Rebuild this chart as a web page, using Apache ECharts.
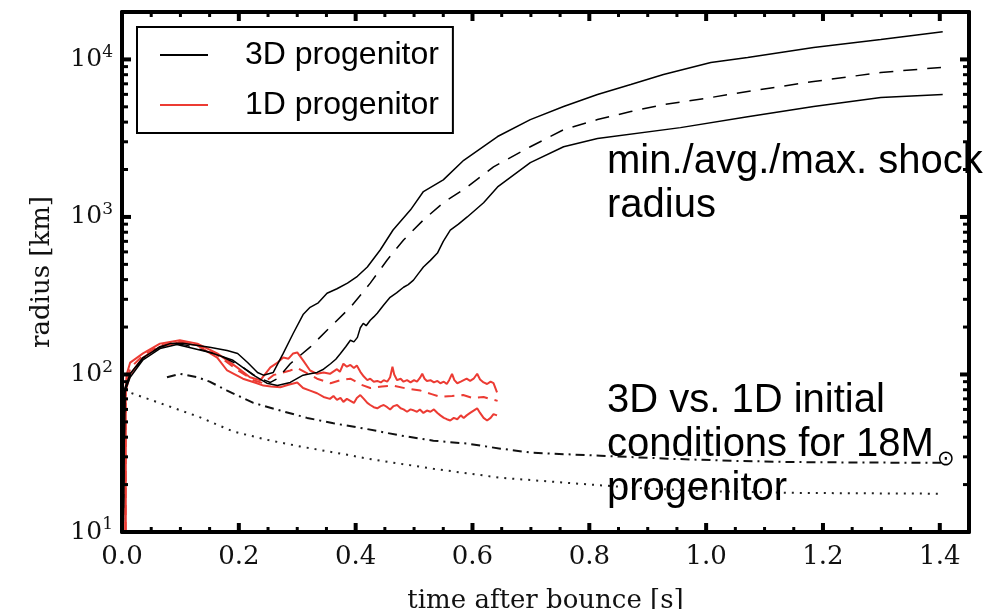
<!DOCTYPE html>
<html>
<head>
<meta charset="utf-8">
<title>shock radius</title>
<script src="https://cdn.jsdelivr.net/npm/echarts@6/dist/echarts.min.js"></script>
<style>
  html, body { margin: 0; padding: 0; background: #fff; }
  #chart { width: 991px; height: 609px; }
</style>
</head>
<body>
<div id="chart"></div>
<script>
// tick labels
const xTicks = [0.0, 0.2, 0.4, 0.6, 0.8, 1.0, 1.2, 1.4];
const yTicks = [10, 100, 1000, 10000];
const legendNames = ['3D progenitor', '1D progenitor'];

// [time after bounce (s), radius (km)]
const max3D = [[0.002,10],[0.005,82],[0.014,101],[0.036,128],[0.065,149],[0.082,157],[0.104,158],[0.15,149],[0.18,142],[0.198,136],[0.215,119],[0.232,103],[0.242,99],[0.259,103],[0.276,136],[0.293,182],[0.31,240],[0.322,267],[0.336,285],[0.351,328],[0.368,350],[0.386,380],[0.403,420],[0.42,481],[0.442,617],[0.464,826],[0.494,1110],[0.516,1450],[0.55,1720],[0.585,2290],[0.643,3240],[0.699,4150],[0.756,5020],[0.814,5990],[0.871,6930],[0.927,8020],[1.008,9570],[1.071,10300],[1.184,11900],[1.299,13400],[1.405,15000]];
const avg3D = [[0.002,10],[0.005,80],[0.014,99],[0.036,127],[0.065,150],[0.09,158],[0.111,153],[0.168,132],[0.207,111],[0.231,96],[0.254,89],[0.266,94],[0.288,117],[0.322,149],[0.351,191],[0.391,267],[0.425,380],[0.454,533],[0.482,714],[0.516,957],[0.55,1230],[0.591,1550],[0.636,2080],[0.699,2790],[0.756,3580],[0.814,4150],[0.871,4670],[0.927,5170],[1.008,5730],[1.071,6260],[1.184,7240],[1.299,8260],[1.402,8890]];
const min3D = [[0.002,10],[0.005,78],[0.014,96],[0.036,124],[0.065,146],[0.094,155],[0.151,138],[0.19,123],[0.225,99],[0.248,88],[0.266,85],[0.288,89],[0.31,99],[0.322,101],[0.334,103],[0.345,108],[0.357,117],[0.366,125],[0.374,136],[0.383,150],[0.391,165],[0.397,161],[0.403,172],[0.408,198],[0.413,211],[0.418,204],[0.425,221],[0.431,232],[0.437,245],[0.448,276],[0.459,309],[0.47,330],[0.482,358],[0.49,372],[0.499,397],[0.508,440],[0.516,481],[0.528,530],[0.54,590],[0.55,700],[0.562,826],[0.576,900],[0.591,1000],[0.619,1230],[0.643,1550],[0.699,2210],[0.756,2790],[0.814,3150],[0.956,3690],[1.071,4330],[1.184,5020],[1.299,5730],[1.405,5990]];
const max1D = [[0.006,10],[0.006,80],[0.008,100],[0.014,119],[0.036,136],[0.065,157],[0.099,165],[0.129,157],[0.163,136],[0.197,111],[0.219,96],[0.237,92],[0.254,111],[0.265,118],[0.276,128],[0.285,126],[0.293,136],[0.3,138],[0.31,123],[0.322,106],[0.334,101],[0.345,103],[0.356,101],[0.368,108],[0.373,104],[0.379,117],[0.385,112],[0.391,115],[0.397,110],[0.402,114],[0.408,104],[0.414,97],[0.42,92],[0.425,94],[0.431,90],[0.437,91],[0.443,89],[0.448,92],[0.454,90],[0.459,96],[0.463,112],[0.466,100],[0.471,92],[0.477,94],[0.482,90],[0.488,92],[0.494,89],[0.5,92],[0.505,90],[0.51,95],[0.514,101],[0.518,94],[0.522,91],[0.528,92],[0.534,89],[0.54,91],[0.545,88],[0.551,90],[0.556,87],[0.56,92],[0.565,101],[0.569,92],[0.574,88],[0.58,90],[0.585,92],[0.59,94],[0.596,91],[0.602,94],[0.608,101],[0.613,93],[0.619,89],[0.625,87],[0.631,90],[0.636,88],[0.642,77]];
const avg1D = [[0.006,10],[0.006,80],[0.014,110],[0.036,132],[0.065,153],[0.099,162],[0.129,155],[0.163,133],[0.197,107],[0.225,92],[0.242,88],[0.259,99],[0.288,106],[0.3,110],[0.334,94],[0.357,88],[0.374,92],[0.391,94],[0.41,86],[0.425,82],[0.445,84],[0.464,85],[0.49,81],[0.511,79],[0.53,75],[0.545,72],[0.565,73],[0.584,74],[0.6,71],[0.619,72],[0.63,70],[0.643,68]];
const min1D = [[0.006,10],[0.006,78],[0.014,100],[0.036,128],[0.065,150],[0.099,160],[0.129,153],[0.163,128],[0.18,106],[0.207,94],[0.231,88],[0.242,85],[0.255,84],[0.271,83],[0.285,86],[0.3,89],[0.31,82],[0.322,79],[0.334,76],[0.345,72],[0.356,70],[0.362,73],[0.368,69],[0.374,71],[0.379,67],[0.385,70],[0.391,68],[0.397,66],[0.402,71],[0.408,74],[0.414,70],[0.42,66],[0.425,64],[0.431,62],[0.437,61],[0.443,63],[0.448,64],[0.454,62],[0.459,60],[0.465,63],[0.471,64],[0.477,61],[0.482,60],[0.488,58],[0.494,60],[0.5,59],[0.505,58],[0.51,60],[0.516,57],[0.522,59],[0.528,58],[0.534,60],[0.54,57],[0.545,55],[0.551,53],[0.556,52],[0.562,51],[0.568,53],[0.574,52],[0.58,55],[0.585,53],[0.59,55],[0.596,57],[0.602,59],[0.608,61],[0.613,57],[0.619,53],[0.625,51],[0.631,53],[0.636,56],[0.642,55]];
const initial3D = [[0.077,96],[0.099,101],[0.129,96],[0.15,90],[0.18,79],[0.225,66],[0.271,59],[0.317,53],[0.362,49],[0.42,45],[0.476,41],[0.533,38],[0.591,36.4],[0.648,33.8],[0.704,31.8],[0.819,30.5],[0.934,29.2],[1.047,28.3],[1.15,27.8],[1.27,27.6],[1.402,27.5]];
const initial1D = [[0.003,78],[0.008,78],[0.077,63.5],[0.134,53.4],[0.19,43.5],[0.248,38.5],[0.305,34.9],[0.386,30.9],[0.42,29.2],[0.533,25.2],[0.648,22.1],[0.763,20.5],[0.876,19.1],[0.991,18.2],[1.157,17.7],[1.402,17.5]];

const black = '#000';
const red = '#ec3b33';

// tick marks on all four sides: [t, r, 0 = x tick / 1 = y tick, 1 = major]
const tickMarks = [];
for (let i = 0; i <= 28; i++) tickMarks.push([+(i * 0.05).toFixed(2), 100, 0, i % 4 ? 0 : 1]);
yTicks.forEach(d => {
  tickMarks.push([0.5, d, 1, 1]);
  for (let k = 2; k <= 9; k++) if (d * k < 20000) tickMarks.push([0.5, d * k, 1, 0]);
});

const serif = 'DejaVu Serif';
const frame = {show: true, onZero: false, lineStyle: {color: '#000', width: 4}};

const xMain = {
  type: 'value', position: 'bottom', min: 0, max: 1.45,
  axisLine: frame, axisTick: {show: false}, splitLine: {show: false},
  axisLabel: {show: true, customValues: xTicks, formatter: v => v.toFixed(1),
    fontFamily: serif, fontSize: 26, color: '#111', margin: 12},
  name: 'time after bounce [s]', nameLocation: 'middle', nameGap: 56,
  nameTextStyle: {fontFamily: serif, fontSize: 26, color: '#111'}
};
const xTop = {
  type: 'value', position: 'top', min: 0, max: 1.45,
  axisLine: frame, axisTick: {show: false}, axisLabel: {show: false}, splitLine: {show: false}
};
const yMain = {
  type: 'log', logBase: 10, position: 'left', min: 10, max: 20000,
  axisLine: frame, axisTick: {show: false}, splitLine: {show: false},
  axisLabel: {show: true, margin: 9, showMaxLabel: false,
    formatter: v => '{b|10}{s|' + Math.round(Math.log10(v)) + '}',
    rich: {
      b: {fontFamily: serif, fontSize: 25, color: '#111'},
      s: {fontFamily: serif, fontSize: 17, color: '#111', padding: [0, 0, 14, 0]}
    }},
  name: 'radius [km]', nameLocation: 'middle', nameGap: 67,
  nameTextStyle: {fontFamily: serif, fontSize: 26, color: '#111'}
};
const yRight = {
  type: 'log', logBase: 10, position: 'right', min: 10, max: 20000,
  axisLine: frame, axisTick: {show: false}, axisLabel: {show: false}, splitLine: {show: false}
};

function line(name, data, color, type, width) {
  return {name, type: 'line', data, symbol: 'none', xAxisIndex: 0, yAxisIndex: 0,
    lineStyle: {color, type, width}, itemStyle: {color}};
}

// inward ticks, placed through the axes' own scales
function renderTick(params, api) {
  const cs = params.coordSys;
  const isY = api.value(2) === 1, major = api.value(3) === 1;
  const len = major ? 9 : (isY ? 6 : 5);
  const style = {stroke: '#000', lineWidth: major ? 4 : 3};
  const p = api.coord([api.value(0), api.value(1)]);
  const a = isY
    ? [[cs.x, p[1], cs.x + len, p[1]], [cs.x + cs.width, p[1], cs.x + cs.width - len, p[1]]]
    : [[p[0], cs.y + cs.height, p[0], cs.y + cs.height - len], [p[0], cs.y, p[0], cs.y + len]];
  return {type: 'group', children: a.map(s => ({type: 'line', shape: {x1: s[0], y1: s[1], x2: s[2], y2: s[3]}, style}))};
}

const chart = echarts.init(document.getElementById('chart'));
chart.setOption({
  animation: false,
  backgroundColor: '#fff',
  grid: {left: 122, top: 12, right: 22, bottom: 77, outerBoundsMode: 'none'},
  xAxis: [xMain, xTop],
  yAxis: [yMain, yRight],
  legend: {
    data: legendNames, orient: 'vertical', left: 137, top: 27,
    padding: [12, 14, 12, 22], itemWidth: 48, itemHeight: 14, itemGap: 18,
    borderColor: '#000', borderWidth: 2,
    itemStyle: {opacity: 0},
    textStyle: {fontFamily: 'Liberation Sans', fontSize: 32, color: '#000', padding: [0, 0, 0, 32]}
  },
  graphic: [
    {type: 'text', left: 607, top: 140, z: 10,
      style: {text: 'min./avg./max. shock\nradius', fontFamily: 'Liberation Sans', fontSize: 40, lineHeight: 44, fill: '#000'}},
    {type: 'text', left: 607, top: 379, z: 10,
      style: {text: '3D vs. 1D initial\nconditions for 18M\nprogenitor', fontFamily: 'Liberation Sans', fontSize: 40, lineHeight: 44, fill: '#000'}},
    {type: 'text', left: 937, top: 449, z: 10,
      style: {text: '⊙', fontFamily: 'DejaVu Sans', fontSize: 21, fill: '#000'}}
  ],
  series: [
    line('1D min', min1D, red, 'solid', 2),
    line('1D avg', avg1D, red, [10, 7], 2),
    line('1D progenitor', max1D, red, 'solid', 2),
    line('initial 3D', initial3D, '#111', [9, 5, 2, 5], 2),
    line('initial 1D', initial1D, '#222', [2, 6], 2),
    line('3D min', min3D, black, 'solid', 1.5),
    line('3D avg', avg3D, black, [14, 10], 1.5),
    line('3D progenitor', max3D, black, 'solid', 1.5),
    {name: 'ticks', type: 'custom', xAxisIndex: 0, yAxisIndex: 0, silent: true, z: 5,
      data: tickMarks, renderItem: renderTick}
  ]
});
</script>
</body>
</html>
